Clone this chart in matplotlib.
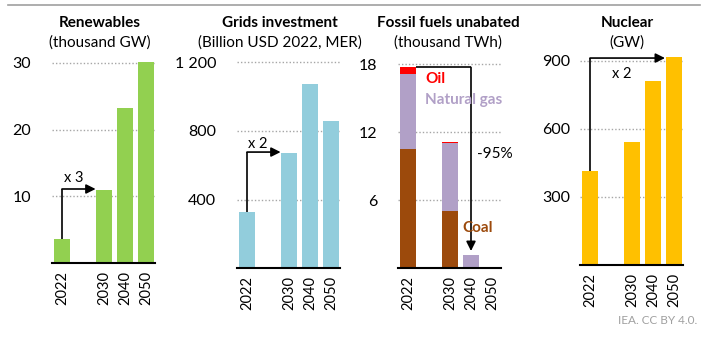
import matplotlib
matplotlib.use("Agg")
import matplotlib.pyplot as plt

plt.rcParams['font.family'] = ['Lato', 'DejaVu Sans']

W, H = 705, 343

years = ["2022", "2030", "2040", "2050"]
positions = [0, 2, 3, 4]

renewables = [3.6, 10.9, 23.2, 30.1]
grids = [327, 672, 1074, 858]
nuclear = [415, 543, 812, 918]
fossil_coal = [10.5, 5.0, 0.0, 0.0]
fossil_gas = [6.6, 6.0, 1.15, 0.12]
fossil_oil = [0.6, 0.1, 0.0, 0.0]

GREEN = '#92D050'
BLUE = '#92CDDC'
BROWN = '#9C4A0C'
PURPLE = '#B1A0C7'
RED = '#FF0000'
YELLOW = '#FFC000'

FS = 10.5
YFS = 11.5


def make_ax(fig, c0, base, px_per_unit, top=55):
    # place axes by pixel: c0 = centre of 2022 bar, base = baseline pixel row
    L, R = c0 - 10, c0 + 93
    ax = fig.add_axes([L / W, 1 - base / H, (R - L) / W, (base - top) / H])
    ax.set_xlim(-10 / 21, 93 / 21)
    ax.set_ylim(0, (base - top) / px_per_unit)
    for s in ['left', 'right', 'top']:
        ax.spines[s].set_visible(False)
    ax.spines['bottom'].set_linewidth(1.5)
    ax.set_xticks(positions)
    ax.set_xticklabels(years, rotation=90, fontsize=FS)
    ax.tick_params(axis='both', length=0)
    ax.tick_params(axis='x', pad=6)
    ax.set_axisbelow(True)
    return ax


def gridlines(ax, ticks, labels, pad):
    ax.set_yticks(ticks)
    ax.set_yticklabels(labels, fontsize=YFS)
    ax.tick_params(axis='y', pad=pad)
    for t in ticks:
        ax.axhline(t, color='#A6A6A6', lw=1, ls=(0, (1, 1.5)), zorder=0)


def titles(fig, xc, title, sub):
    fig.text(xc / W, 1 - 23 / H, title, ha='center', va='center', fontsize=FS + 0.5, fontweight='bold')
    fig.text(xc / W, 1 - 43 / H, sub, ha='center', va='center', fontsize=FS + 0.5)


def step_arrow(ax, x0, y0, y1, x1):
    ax.plot([x0, x0], [y0, y1], color='black', lw=1.2, solid_capstyle='butt')
    ax.annotate('', xy=(x1, y1), xytext=(x0, y1),
                arrowprops=dict(arrowstyle='-|>', color='black', lw=1.2,
                                mutation_scale=14, shrinkA=0, shrinkB=0))


fig = plt.figure(figsize=(W / 100, H / 100), dpi=100)
fig.add_artist(plt.Line2D([8 / W, 700 / W], [1 - 5 / H, 1 - 5 / H], color='#A0A0A0', lw=1.2))

# Renewables
ax1 = make_ax(fig, 62, 263, 6.667)
gridlines(ax1, [10, 20, 30], ['10', '20', '30'], 15)
ax1.bar(positions, renewables, width=0.76, color=GREEN)
step_arrow(ax1, 0, renewables[0], renewables[1] + 0.2, 1.6)
ax1.text(0.57, 12.7, 'x 3', ha='center', va='center', fontsize=FS)
titles(fig, 100, 'Renewables', '(thousand GW)')

# Grids
ax2 = make_ax(fig, 247, 268, 68.5 / 400)
gridlines(ax2, [400, 800, 1200], ['400', '800', '1 200'], 15)
ax2.bar(positions, grids, width=0.76, color=BLUE)
step_arrow(ax2, 0, grids[0], grids[1] + 5, 1.6)
ax2.text(0.5, 724, 'x 2', ha='center', va='center', fontsize=FS)
titles(fig, 280, 'Grids investment', '(Billion USD 2022, MER)')

# Fossil fuels
ax3 = make_ax(fig, 408, 268, 68 / 6)
gridlines(ax3, [6, 12, 18], ['6', '12', '18'], 15)
gas_bottom = fossil_coal
oil_bottom = [c + g for c, g in zip(fossil_coal, fossil_gas)]
ax3.bar(positions, fossil_coal, width=0.76, color=BROWN)
ax3.bar(positions, fossil_gas, width=0.76, bottom=gas_bottom, color=PURPLE)
ax3.bar(positions, fossil_oil, width=0.76, bottom=oil_bottom, color=RED)
top22 = oil_bottom[0] + fossil_oil[0]
ax3.plot([0.38, 3], [top22, top22], color='black', lw=1.2, solid_capstyle='butt')
ax3.annotate('', xy=(3, fossil_gas[2] + 0.35), xytext=(3, top22),
             arrowprops=dict(arrowstyle='-|>', color='black', lw=1.2,
                             mutation_scale=14, shrinkA=0, shrinkB=0))
ax3.text(0.81, 16.7, 'Oil', color=RED, fontweight='bold', va='center', fontsize=FS + 0.5)
ax3.text(0.81, 14.8, 'Natural gas', color=PURPLE, fontweight='bold', va='center', fontsize=FS + 0.5)
ax3.text(2.57, 3.5, 'Coal', color=BROWN, fontweight='bold', va='center', fontsize=FS + 0.5)
ax3.text(3.29, 10.1, '-95%', va='center', fontsize=FS + 0.5)
titles(fig, 448, 'Fossil fuels unabated', '(thousand TWh)')

# Nuclear
ax4 = make_ax(fig, 590, 265, 68 / 300)
gridlines(ax4, [300, 600, 900], ['300', '600', '900'], 7)
ax4.bar(positions, nuclear, width=0.76, color=YELLOW)
step_arrow(ax4, 0, nuclear[0], 913, 3.57)
ax4.text(1.52, 843, 'x 2', ha='center', va='center', fontsize=FS)
titles(fig, 627, 'Nuclear', '(GW)')

fig.text(697 / W, 1 - 321 / H, 'IEA. CC BY 4.0.', ha='right', va='center', fontsize=8.5, color='#A0A0A0')

fig.savefig('out.png', dpi=100)
